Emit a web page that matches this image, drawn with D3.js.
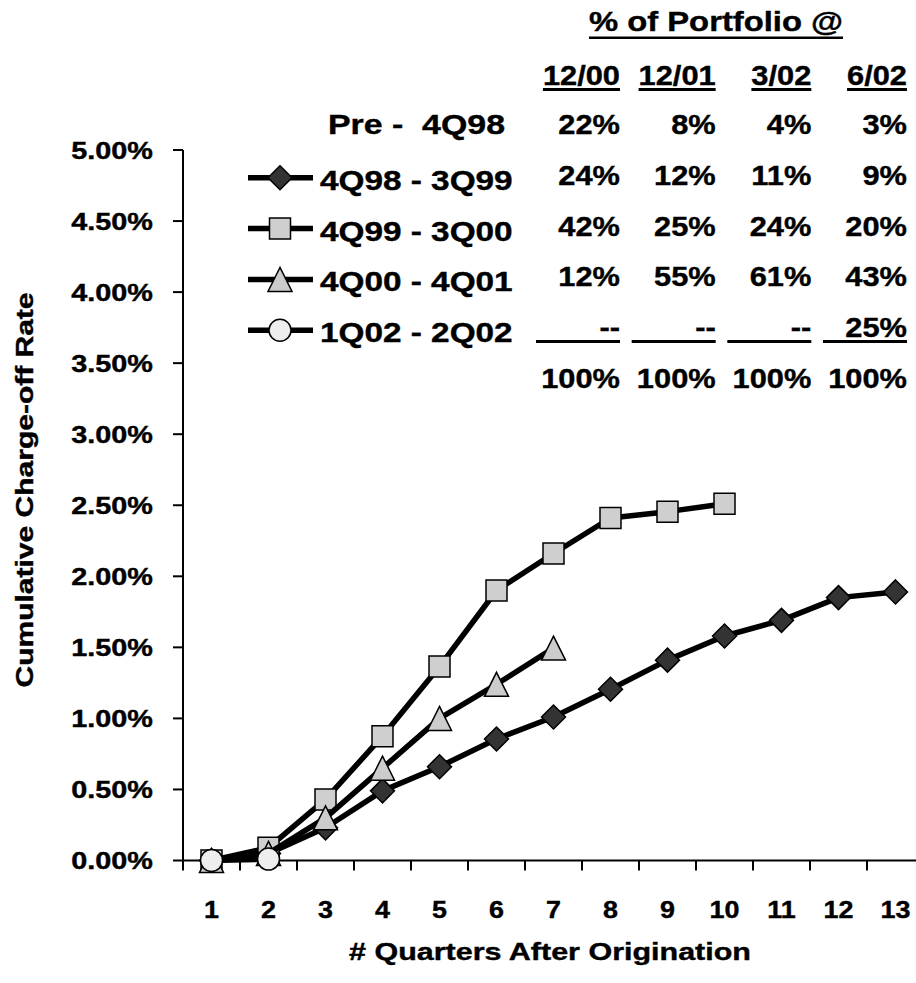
<!DOCTYPE html>
<html>
<head>
<meta charset="utf-8">
<script src="https://cdn.jsdelivr.net/npm/d3@7/dist/d3.min.js"></script>
<style>
  body { margin: 0; background: #fff; }
  svg { display: block; }
  text { font-family: "Liberation Sans", Arial, sans-serif; font-weight: bold; fill: #000; stroke: #000; stroke-width: 0.4px; white-space: pre; }
</style>
</head>
<body>
<svg id="chart" width="916" height="983"></svg>
<script>
// Quarters since origination (x categories) and y-axis ticks (%)
const quarters = [1, 2, 3, 4, 5, 6, 7, 8, 9, 10, 11, 12, 13];
const yTicks = [0, 0.5, 1, 1.5, 2, 2.5, 3, 3.5, 4, 4.5, 5];

// Cumulative charge-off rate (%) by vintage
const vintageNames = ["4Q98 - 3Q99", "4Q99 - 3Q00", "4Q00 - 4Q01", "1Q02 - 2Q02"];
const rates4Q98 = [0.00, 0.05, 0.23, 0.49, 0.66, 0.855, 1.01, 1.205, 1.41, 1.58, 1.69, 1.85, 1.89];
const rates4Q99 = [0.00, 0.09, 0.43, 0.875, 1.365, 1.90, 2.16, 2.41, 2.455, 2.51];
const rates4Q00 = [0.00, 0.05, 0.30, 0.65, 1.00, 1.24, 1.495];
const rates1Q02 = [0.00, 0.01];

// Portfolio mix table
const portfolioTitle = "% of Portfolio @";
const portfolioDates = ["12/00", "12/01", "3/02", "6/02"];
const preLabel = "Pre -  4Q98";
const sharePre4Q98 = ["22%", "8%", "4%", "3%"];
const share4Q98 = ["24%", "12%", "11%", "9%"];
const share4Q99 = ["42%", "25%", "24%", "20%"];
const share4Q00 = ["12%", "55%", "61%", "43%"];
const share1Q02 = ["--", "--", "--", "25%"];
const shareTotal = ["100%", "100%", "100%", "100%"];

const svg = d3.select("#chart");

// stretch text horizontally by factor k
function widen(sel, k) {
  sel.each(function () {
    const w = this.getComputedTextLength();
    d3.select(this).attr("textLength", w * k).attr("lengthAdjust", "spacingAndGlyphs");
  });
}

// ---- scales ----
const x = d3.scaleBand().domain(quarters).range([183, 183 + 57 * quarters.length]).paddingInner(0).paddingOuter(0);
const cx = q => x(q) + x.bandwidth() / 2;
const y = d3.scaleLinear().domain([0, 5]).range([860.5, 150]);

// ---- axes ----
const axes = svg.append("g").attr("stroke", "#000").attr("stroke-width", 2);
axes.append("line").attr("x1", 183).attr("x2", 183).attr("y1", y(5)).attr("y2", y(0) + 10);
axes.append("line").attr("x1", 183).attr("x2", 183 + 57 * quarters.length).attr("y1", y(0)).attr("y2", y(0));
axes.selectAll("line.yt").data(yTicks).join("line").attr("class", "yt")
  .attr("x1", 173).attr("x2", 183).attr("y1", d => y(d)).attr("y2", d => y(d));
axes.selectAll("line.xt").data(quarters).join("line").attr("class", "xt")
  .attr("x1", d => x(d) + x.bandwidth()).attr("x2", d => x(d) + x.bandwidth())
  .attr("y1", y(0)).attr("y2", y(0) + 10);

const yLab = svg.append("g").selectAll("text").data(yTicks).join("text")
  .attr("x", 153).attr("y", d => y(d)).attr("dy", "0.36em")
  .attr("text-anchor", "end").attr("font-size", 24)
  .text(d => d.toFixed(2) + "%");
widen(yLab, 1.2);

const xLab = svg.append("g").selectAll("text").data(quarters).join("text")
  .attr("x", d => cx(d)).attr("y", 918)
  .attr("text-anchor", "middle").attr("font-size", 24)
  .text(d => d);
widen(xLab, 1.12);

const xTitle = svg.append("text").attr("x", 550).attr("y", 960)
  .attr("text-anchor", "middle").attr("font-size", 24)
  .text("# Quarters After Origination");
widen(xTitle, 1.27);

const yTitle = svg.append("text").attr("transform", "translate(33,490) rotate(-90)")
  .attr("text-anchor", "middle").attr("font-size", 24)
  .text("Cumulative Charge-off Rate");
widen(yTitle, 1.25);

// ---- marker shapes ----
const markers = {
  diamond: { path: "M0,-12L12,0L0,12L-12,0Z", fill: "#333333" },
  square: { path: "M-10.5,-10.5H10.5V10.5H-10.5Z", fill: "#cfcfcf" },
  triangle: { path: "M0,-12L12,12H-12Z", fill: "#cccccc" },
  circle: { path: "M11,0A11,11 0 1,1 -11,0A11,11 0 1,1 11,0Z", fill: "#eeeeee" }
};

const series = [
  { name: vintageNames[0], values: rates4Q98, marker: markers.diamond },
  { name: vintageNames[1], values: rates4Q99, marker: markers.square },
  { name: vintageNames[2], values: rates4Q00, marker: markers.triangle },
  { name: vintageNames[3], values: rates1Q02, marker: markers.circle }
];

const line = d3.line().x((d, i) => cx(quarters[i])).y(d => y(d));

series.forEach(s => {
  const g = svg.append("g");
  g.append("path").attr("d", line(s.values))
    .attr("fill", "none").attr("stroke", "#000").attr("stroke-width", 5.5)
    .attr("stroke-linejoin", "round");
  g.selectAll("path.m").data(s.values).join("path").attr("class", "m")
    .attr("transform", (d, i) => `translate(${cx(quarters[i])},${y(d)})`)
    .attr("d", s.marker.path)
    .attr("fill", s.marker.fill).attr("stroke", "#000").attr("stroke-width", 1.5);
});

// ---- portfolio table and legend ----
const col = d3.scaleLinear().domain([0, 3]).range([620, 907]);
const row = d3.scaleLinear().domain([0, 5]).range([134, 388]);
const tableFont = 28, tableK = 1.1, labelK = 1.19;

const title = svg.append("text").attr("x", 716).attr("y", 31)
  .attr("text-anchor", "middle").attr("font-size", tableFont).text(portfolioTitle);
widen(title, 1.17);
{
  const b = title.node().getBBox();
  svg.append("rect").attr("x", b.x).attr("y", 36.5).attr("width", b.width).attr("height", 2.5).attr("fill", "#000");
}

const heads = svg.append("g").selectAll("text").data(portfolioDates).join("text")
  .attr("x", (d, i) => col(i)).attr("y", 85)
  .attr("text-anchor", "end").attr("font-size", tableFont).text(d => d);
widen(heads, tableK);
heads.each(function () {
  const b = this.getBBox();
  svg.append("rect").attr("x", b.x).attr("y", 88).attr("width", b.width).attr("height", 3).attr("fill", "#000");
});

const tableRows = [sharePre4Q98, share4Q98, share4Q99, share4Q00, share1Q02, shareTotal];
tableRows.forEach((vals, r) => {
  const t = svg.append("g").selectAll("text").data(vals).join("text")
    .attr("x", (d, i) => col(i)).attr("y", row(r))
    .attr("text-anchor", "end").attr("font-size", tableFont).text(d => d);
  widen(t, tableK);
});

// accounting underline above the totals
svg.append("g").selectAll("rect").data(portfolioDates).join("rect")
  .attr("x", (d, i) => col(i) - 84).attr("y", 340).attr("width", 84).attr("height", 3).attr("fill", "#000");

const pre = svg.append("text").attr("x", 505).attr("y", row(0))
  .attr("text-anchor", "end").attr("font-size", tableFont).text(preLabel);
widen(pre, 1.21);

// legend entries
series.forEach((s, i) => {
  const base = row(i + 1) + 5;
  const my = base - 12;
  const g = svg.append("g");
  g.append("line").attr("x1", 248).attr("x2", 313).attr("y1", my).attr("y2", my)
    .attr("stroke", "#000").attr("stroke-width", 5.5);
  g.append("path").attr("transform", `translate(280,${my})`).attr("d", s.marker.path)
    .attr("fill", s.marker.fill).attr("stroke", "#000").attr("stroke-width", 1.5);
  const t = g.append("text").attr("x", 320).attr("y", base).attr("font-size", tableFont).text(s.name);
  widen(t, labelK);
});
</script>
</body>
</html>
